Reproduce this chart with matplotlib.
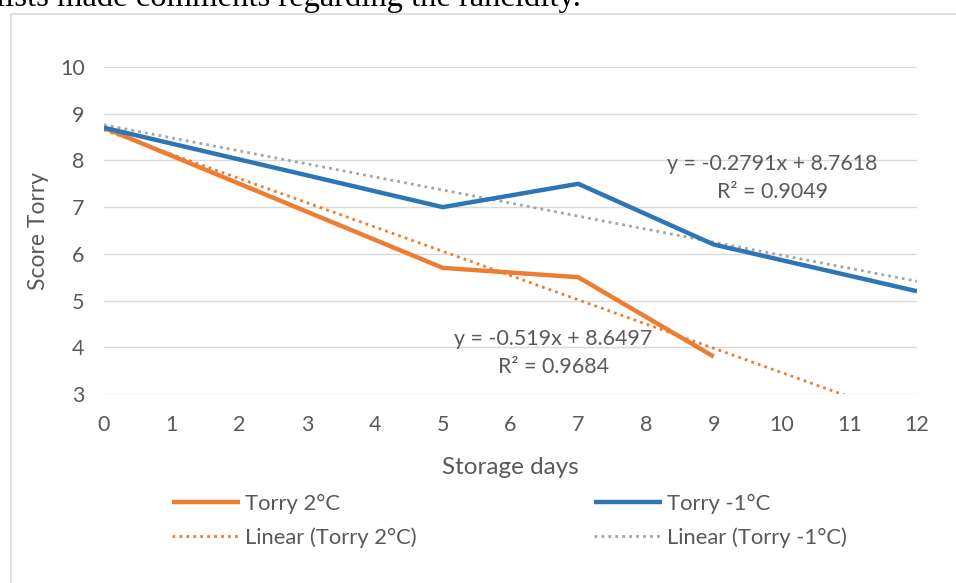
import numpy as np
import matplotlib
matplotlib.use('Agg')
from matplotlib import pyplot as plt
from matplotlib.patches import Rectangle

# data
days_2c = [0, 5, 7, 9]
score_2c = [8.7, 5.7, 5.5, 3.8]
days_m1c = [0, 5, 7, 9, 12]
score_m1c = [8.7, 7.0, 7.5, 6.2, 5.2]

# trendline coefficients as printed on the chart
slope_2c, icept_2c, r2_2c = -0.519, 8.6497, 0.9684
slope_m1c, icept_m1c, r2_m1c = -0.2791, 8.7618, 0.9049

x_ticks = list(range(0, 13))
y_ticks = list(range(3, 11))

orange = '#ED7D31'
blue = '#2E75B6'
grey_trend = '#A5A5A5'
text_grey = '#595959'
grid_grey = '#D9D9D9'

plt.rcParams['font.family'] = ['Lato', 'DejaVu Sans']

fig = plt.figure(figsize=(9.56, 5.83), dpi=100)
W, H = 956, 583

# page text above the chart, cut off at the top
fig.text(-0.004, 1 - 6 / H, 'lists made comments regarding the rancidity.',
         family=['Liberation Serif', 'DejaVu Serif'], fontsize=23.5,
         color='black', va='baseline', ha='left')

# chart frame
fig.patches.append(Rectangle((11 / W, -0.05), 1.1, 1 - 14 / H + 0.05,
                             transform=fig.transFigure, fill=False,
                             edgecolor=grid_grey, linewidth=1.2))

ax = fig.add_axes([104 / W, 1 - 394 / H, (917 - 104) / W, (394 - 67) / H])

trend_x = np.array([0, 12])
ax.plot(days_2c, score_2c, color=orange, lw=3.2, solid_capstyle='butt',
        label='Torry 2°C', zorder=3)
ax.plot(trend_x, slope_2c * trend_x + icept_2c, color=orange, lw=2.0,
        ls=(0, (1, 1.5)), label='Linear (Torry 2°C)', zorder=2)
ax.plot(days_m1c, score_m1c, color=blue, lw=3.2, solid_capstyle='butt',
        label='Torry -1°C', zorder=3)
ax.plot(trend_x, slope_m1c * trend_x + icept_m1c, color=grey_trend, lw=2.0,
        ls=(0, (1, 1.5)), label='Linear (Torry -1°C)', zorder=2)

ax.set_xlim(0, 12)
ax.set_ylim(3, 10)
ax.set_xticks(x_ticks)
ax.set_yticks(y_ticks)
ax.grid(axis='y', color=grid_grey, lw=1.0)
ax.set_axisbelow(True)
for s in ax.spines.values():
    s.set_visible(False)
ax.tick_params(length=0, labelsize=15.5, colors=text_grey)
ax.tick_params(axis='x', pad=15)
ax.tick_params(axis='y', pad=14)

ax.set_xlabel('Storage days', fontsize=17.5, color=text_grey, labelpad=16)
ax.set_ylabel('Score Torry', fontsize=16.5, color=text_grey, labelpad=8)

# trendline equations
eq_style = dict(fontsize=15.4, color=text_grey, ha='center', va='center')
ax.text(9.87, 7.92, f'y = {slope_m1c}x + {icept_m1c}', **eq_style)
ax.text(9.87, 7.32, f'R² = {r2_m1c}', **eq_style)
ax.text(6.63, 4.18, f'y = {slope_2c}x + {icept_2c}', **eq_style)
ax.text(6.63, 3.58, f'R² = {r2_2c}', **eq_style)

handles, labels = ax.get_legend_handles_labels()
leg = fig.legend(handles, labels,
                 ncol=2, loc='upper left', bbox_to_anchor=(152 / W, 1 - 474 / H),
                 frameon=False, fontsize=15.8, handlelength=3.1,
                 handletextpad=0.25, columnspacing=8.05, labelspacing=0.62,
                 labelcolor=text_grey)

plt.savefig('out.png', dpi=100)
